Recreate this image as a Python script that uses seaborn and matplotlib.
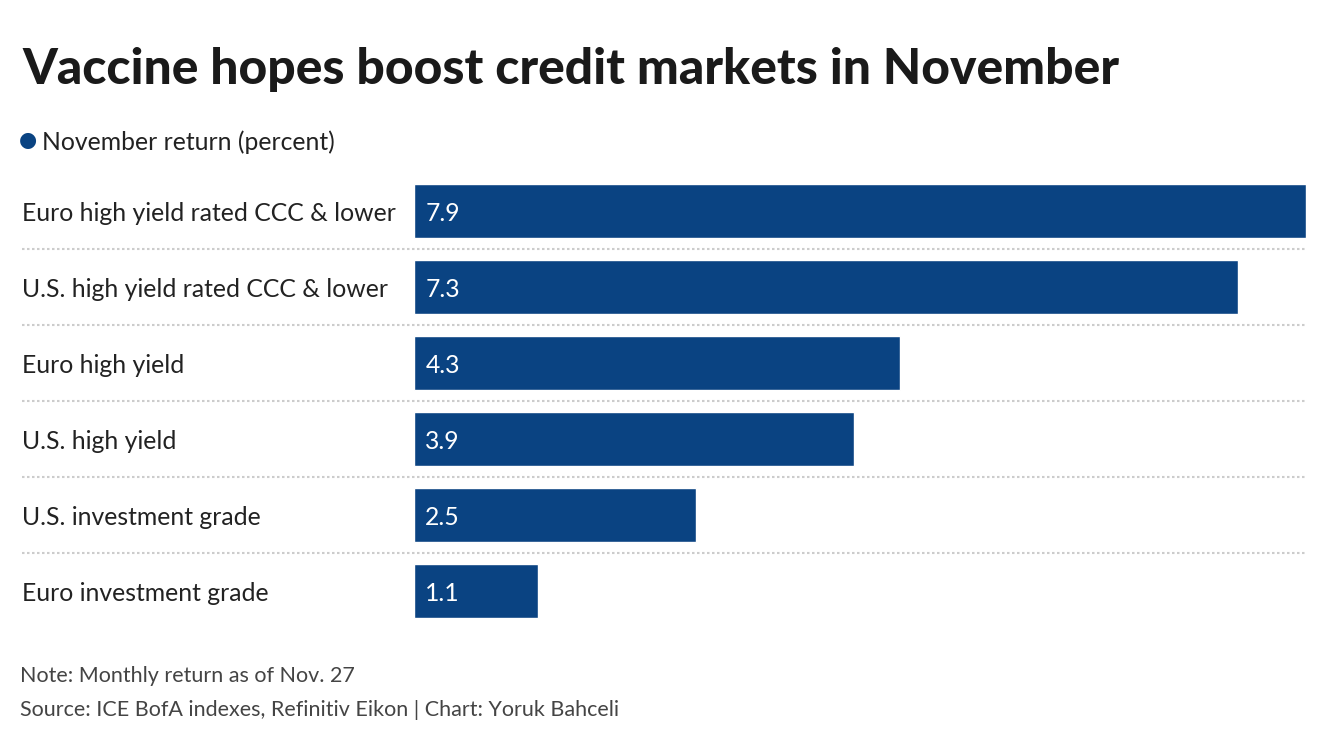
import seaborn as sns
import matplotlib.pyplot as plt
import pandas as pd

# dati
categorie = ["Euro high yield rated CCC & lower", "U.S. high yield rated CCC & lower",
             "Euro high yield", "U.S. high yield", "U.S. investment grade",
             "Euro investment grade"]
rendimenti = [7.9, 7.3, 4.3, 3.9, 2.5, 1.1]

df = pd.DataFrame({"categoria": categorie, "rendimento": rendimenti})

sns.set_style("white")
plt.rcParams['font.family'] = ['Lato', 'DejaVu Sans']

blu = "#0a4382"
testo = "#222222"

fig = plt.figure(figsize=(13.28, 7.48), dpi=100)
ax = fig.add_axes([414 / 1328, 1 - 629 / 748, 892 / 1328, (629 - 173) / 748])

sns.barplot(data=df, x="rendimento", y="categoria", color=blu, width=0.7,
            saturation=1, ax=ax)
ax.set_xlim(0, 7.9)
ax.set_ylim(5.5, -0.5)
ax.set_xlabel("")
ax.set_ylabel("")
ax.set_xticks([])
ax.set_yticks([])
sns.despine(ax=ax, left=True, bottom=True)

# etichette categorie e valori
for i, (c, v) in enumerate(zip(categorie, rendimenti)):
    ax.text(-0.4395, i + 0.03, c, transform=ax.get_yaxis_transform(), ha="left",
            va="center", fontsize=17.8, color=testo)
    ax.text(0.1, i + 0.03, f"{v:.1f}", ha="left", va="center", fontsize=17.8,
            color="white")

# linee tratteggiate tra le righe
for i in range(len(categorie) - 1):
    ax.axhline(i + 0.5, xmin=-0.4395, xmax=1, color="#cccccc", lw=1.5,
               ls=(0, (1.2, 1.2)), clip_on=False)

fig.text(22 / 1328, 1 - 70 / 748, "Vaccine hopes boost credit markets in November",
         fontsize=35.8, fontweight="black", color="#1a1a1a", va="center", ha="left")
fig.text(28 / 1328, 1 - 140 / 748, "●", fontsize=15, color=blu, va="center",
         ha="center", family=["DejaVu Sans"])
fig.text(42 / 1328, 1 - 142 / 748, "November return (percent)", fontsize=17.8,
         color=testo, va="center", ha="left")
fig.text(20 / 1328, 1 - 676 / 748, "Note: Monthly return as of Nov. 27", fontsize=15.5,
         color="#444444", va="center", ha="left")
fig.text(20 / 1328, 1 - 710 / 748,
         "Source: ICE BofA indexes, Refinitiv Eikon | Chart: Yoruk Bahceli",
         fontsize=15.5, color="#444444", va="center", ha="left")

fig.savefig("out.png", dpi=100)
